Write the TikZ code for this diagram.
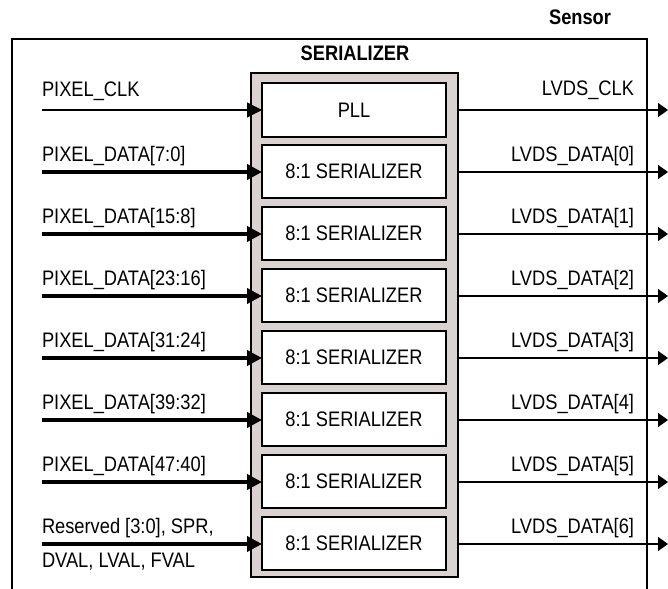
\documentclass[tikz,border=0pt]{standalone}
\usepackage{fontspec}
\setmainfont[FakeStretch=0.87]{Liberation Sans}
\usetikzlibrary{arrows.meta}
\definecolor{serfill}{RGB}{217,210,208}
\tikzset{
  lbl/.style={font=\fontsize{21pt}{23pt}\selectfont, inner sep=0pt, outer sep=0pt},
  ttl/.style={font=\fontsize{21pt}{23pt}\selectfont\bfseries, inner sep=0pt, outer sep=0pt},
  serbox/.style={draw=black, line width=1.4pt, fill=white, minimum width=184pt, minimum height=53pt, inner sep=0pt, outer sep=0pt, font=\fontsize{21pt}{23pt}\selectfont},
  thinin/.style={line width=1.3pt, -{Triangle[length=15pt,width=15pt]}},
  thickin/.style={line width=4.6pt, -{Triangle[length=15pt,width=15pt]}},
  outln/.style={line width=1.3pt, shorten <=12pt, -{Triangle[length=10pt,width=14pt]}},
}
\begin{document}
\begin{tikzpicture}[x=1pt,y=-1pt]
\useasboundingbox (0,0) rectangle (668,588);
\begin{scope}
\clip (0,0) rectangle (668,588);
\draw[line width=1.4pt] (12,600) -- (12,39) -- (647,39) -- (647,600);
\end{scope}
\node[ttl, anchor=base east] (sensor) at (611,25) {Sensor};
\node[ttl, anchor=base] (title) at (355,61) {SERIALIZER};
\node[draw=black, line width=2pt, fill=serfill, minimum width=207pt, minimum height=504pt, inner sep=0pt, outer sep=0pt] (ser) at (354.5,325) {};
\node[serbox, minimum height=54pt] (pll) at (354,110) {PLL};
\foreach \i in {1,...,7} {
  \node[serbox] (s\i) at (354,{145+62*(\i-1)+26.5}) {\raisebox{-2pt}{8:1 SERIALIZER}};
}
\coordinate (ipll) at (42,110);
\foreach \i in {1,...,7} { \coordinate (i\i) at (42,{145+62*(\i-1)+27}); }
\coordinate (opll) at (668,110);
\foreach \i in {1,...,7} { \coordinate (o\i) at (668,{145+62*(\i-1)+27}); }
\draw[thinin] (ipll) -- (pll.west);
\foreach \i in {1,...,7} { \draw[thickin] (i\i) -- (i\i -| s\i.west); }
\draw[outln] (pll.east) -- (opll);
\foreach \i in {1,...,7} { \draw[outln] (o\i -| s\i.east) -- (o\i); }
% input labels
\node[lbl, anchor=base west] (lpll) at (42,97) {PIXEL\_CLK};
\node[lbl, anchor=base west] (l1) at (42,161) {PIXEL\_DATA[7:0]};
\node[lbl, anchor=base west] (l2) at (42,223) {PIXEL\_DATA[15:8]};
\node[lbl, anchor=base west] (l3) at (42,285) {PIXEL\_DATA[23:16]};
\node[lbl, anchor=base west] (l4) at (42,347) {PIXEL\_DATA[31:24]};
\node[lbl, anchor=base west] (l5) at (42,409) {PIXEL\_DATA[39:32]};
\node[lbl, anchor=base west] (l6) at (42,471) {PIXEL\_DATA[47:40]};
\node[lbl, anchor=base west] (l7) at (42,533) {Reserved [3:0], SPR,};
\node[lbl, anchor=base west] (l7b) at (42,567) {DVAL, LVAL, FVAL};
% output labels
\node[lbl, anchor=base east] (rpll) at (634,96) {LVDS\_CLK};
\node[lbl, anchor=base east] (r1) at (634,161) {LVDS\_DATA[0]};
\node[lbl, anchor=base east] (r2) at (634,223) {LVDS\_DATA[1]};
\node[lbl, anchor=base east] (r3) at (634,285) {LVDS\_DATA[2]};
\node[lbl, anchor=base east] (r4) at (634,347) {LVDS\_DATA[3]};
\node[lbl, anchor=base east] (r5) at (634,409) {LVDS\_DATA[4]};
\node[lbl, anchor=base east] (r6) at (634,471) {LVDS\_DATA[5]};
\node[lbl, anchor=base east] (r7) at (634,533) {LVDS\_DATA[6]};
\end{tikzpicture}
\end{document}
